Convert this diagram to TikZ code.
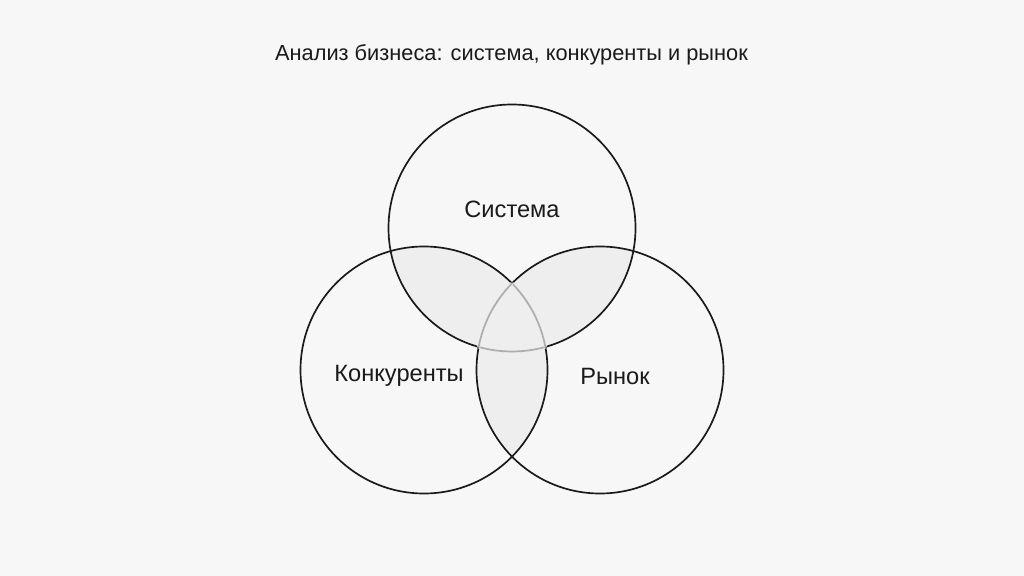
\documentclass[tikz,border=0pt]{standalone}
\usepackage{fontspec}
\setmainfont{Liberation Sans}
\definecolor{bgc}{HTML}{F7F7F7}
\definecolor{lensc}{HTML}{EEEEEE}
\definecolor{innerc}{HTML}{ADADAD}
\definecolor{inkc}{HTML}{1A1A1A}
\begin{document}
\begin{tikzpicture}[x=0.025cm,y=-0.025cm,
  ring/.style={draw=inkc,line width=1.2pt},
  cover/.style={draw=lensc,line width=2.2pt},
  innerarc/.style={draw=innerc,line width=1.2pt},
  lbl/.style={text=inkc,font=\fontsize{16.8}{20}\selectfont,inner sep=0pt,anchor=center},
  ttl/.style={text=inkc,font=\fontsize{15.5}{18}\selectfont,inner sep=0pt,anchor=center}]
\fill[bgc] (0,0) rectangle (1024,576);
\useasboundingbox (0,0) rectangle (1024,576);
\def\rr{123.5}
\coordinate (T) at (512,228);
\coordinate (L) at (424,370);
\coordinate (R) at (600,370);
% lens fills
\begin{scope}\clip (T) circle (\rr); \fill[lensc] (L) circle (\rr); \end{scope}
\begin{scope}\clip (T) circle (\rr); \fill[lensc] (R) circle (\rr); \end{scope}
\begin{scope}\clip (L) circle (\rr); \fill[lensc] (R) circle (\rr); \end{scope}
% circles
\draw[ring] (T) circle (\rr);
\draw[ring] (L) circle (\rr);
\draw[ring] (R) circle (\rr);
% inner (triple region) arcs in gray
\begin{scope}\clip (L) circle (\rr); \clip (R) circle (\rr); \draw[cover] (T) circle (\rr); \draw[innerarc] (T) circle (\rr); \end{scope}
\begin{scope}\clip (T) circle (\rr); \clip (R) circle (\rr); \draw[cover] (L) circle (\rr); \draw[innerarc] (L) circle (\rr); \end{scope}
\begin{scope}\clip (T) circle (\rr); \clip (L) circle (\rr); \draw[cover] (R) circle (\rr); \draw[innerarc] (R) circle (\rr); \end{scope}
% labels
\node[ttl] (title) at (511.5,55) {Анализ бизнеса: система, конкуренты и рынок};
\node[lbl] (sys) at (512,209) {Система};
\node[lbl] (comp) at (399,376) {Конкуренты};
\node[lbl] (mkt) at (615,376) {Рынок};
\end{tikzpicture}
\end{document}
